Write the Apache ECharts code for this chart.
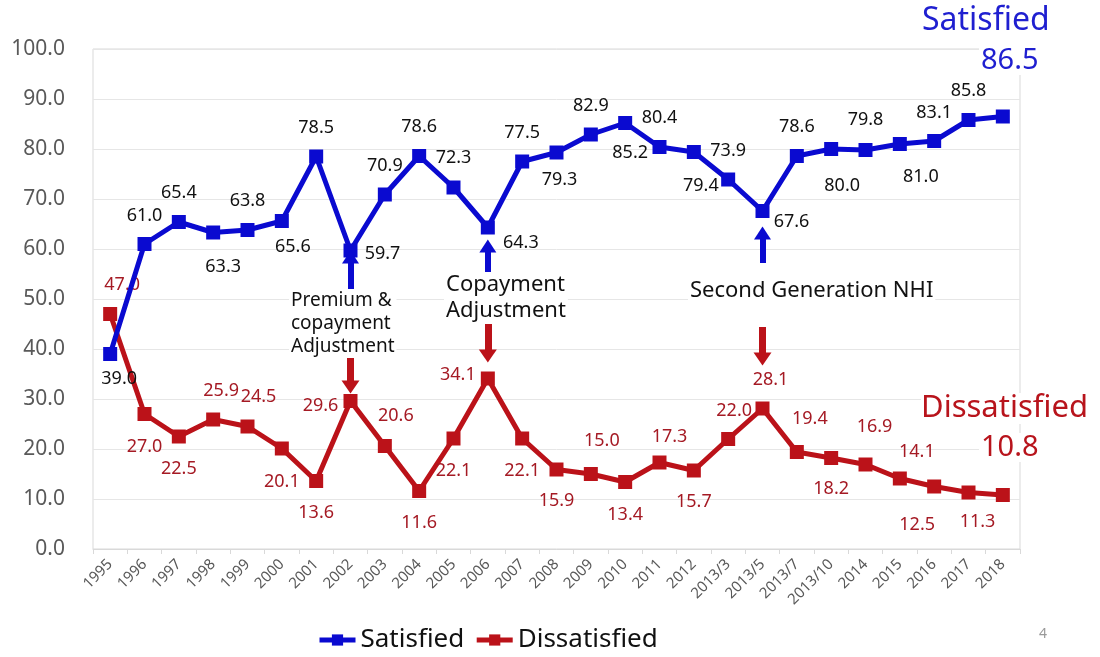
<!DOCTYPE html>
<html>
<head>
<meta charset="utf-8">
<script src="https://cdn.jsdelivr.net/npm/echarts@6/dist/echarts.min.js"></script>
<style>html,body{margin:0;padding:0;background:#fff}#c{width:1100px;height:657px}</style>
</head>
<body>
<div id="c"></div>
<script>
const categories = ['1995','1996','1997','1998','1999','2000','2001','2002','2003','2004','2005','2006','2007','2008','2009','2010','2011','2012','2013/3','2013/5','2013/7','2013/10','2014','2015','2016','2017','2018'];
const satisfied = [39.0,61.0,65.4,63.3,63.8,65.6,78.5,59.7,70.9,78.6,72.3,64.3,77.5,79.3,82.9,85.2,80.4,79.4,73.9,67.6,78.6,80.0,79.8,81.0,81.6,85.8,86.5];
const satisfiedLabels = ['39.0','61.0','65.4','63.3','63.8','65.6','78.5','59.7','70.9','78.6','72.3','64.3','77.5','79.3','82.9','85.2','80.4','79.4','73.9','67.6','78.6','80.0','79.8','81.0','83.1','85.8',''];
const dissatisfied = [47.0,27.0,22.5,25.9,24.5,20.1,13.6,29.6,20.6,11.6,22.1,34.1,22.1,15.9,15.0,13.4,17.3,15.7,22.0,28.1,19.4,18.2,16.9,14.1,12.5,11.3,10.8];
const dissatisfiedLabels = ['47.0','27.0','22.5','25.9','24.5','20.1','13.6','29.6','20.6','11.6','22.1','34.1','22.1','15.9','15.0','13.4','17.3','15.7','22.0','28.1','19.4','18.2','16.9','14.1','12.5','11.3',''];
const yTicks = [0,10,20,30,40,50,60,70,80,90,100];
// events marked with arrows: [category, blue tail, blue tip, red tail, red tip]
const events = [['2002',51.8,58.4,39.2,32.4],['2006',54.8,60.6,45.2,38.6],['2013/5',57.2,63.2,44.4,38.0]];

// label placement (pixel offsets from marker centre) - layout only
const satShift = [[9,25],[0,-28],[0,-29],[10,34],[0,-29],[11,26],[0,-29],[32,3],[0,-29],[0,-29],[0,-30],[33,15],[0,-29],[3,27],[0,-29],[5,30],[0,-29],[7,34],[0,-29],[29,11],[0,-29],[11,37],[0,-30],[21,33],[0,-28],[0,-29],[0,0]];
const disShift = [[12,-29],[0,33],[0,32],[8,-29],[11,-30],[0,33],[0,32],[-30,5],[11,-30],[0,32],[0,32],[-30,-4],[0,32],[0,31],[11,-33],[0,33],[10,-26],[0,31],[6,-28],[8,-29],[13,-33],[0,31],[9,-38],[17,-27],[-17,38],[9,29],[0,0]];

const BLUE = '#0a0ad0', RED = '#bb1219', FONT = 'Noto Sans';

function items(vals, shifts, labels){
  return vals.map((v,i)=>({value:v, label:{show: labels[i] !== '', offset: shifts[i]}}));
}
function arrows(tailIdx, tipIdx){
  return events.map(e=>[{coord:[e[0], e[tailIdx]]},{coord:[e[0], e[tipIdx]]}]);
}

const chart = echarts.init(document.getElementById('c'));
chart.setOption({
  animation:false,
  textStyle:{fontFamily:FONT},
  grid:{left:93,right:80,top:49,bottom:108,show:true,borderColor:'#d9d9d9',borderWidth:1,outerBoundsMode:'none'},
  legend:{data:['Satisfied','Dissatisfied'],left:312,top:622,itemWidth:36,itemHeight:14,itemGap:10,
    lineStyle:{width:5},
    textStyle:{fontSize:26,color:'#111',fontFamily:FONT}},
  xAxis:{type:'category',data:categories,boundaryGap:true,
    axisLine:{lineStyle:{color:'#d9d9d9'}},
    axisTick:{show:true,length:5,lineStyle:{color:'#d9d9d9'}},
    axisLabel:{rotate:45,interval:0,fontSize:15,color:'#595959',margin:13}},
  yAxis:{type:'value',min:0,max:100,interval:10,
    axisLine:{show:false},axisTick:{show:false},
    splitLine:{lineStyle:{color:'#e6e6e6'}},
    axisLabel:{fontSize:21,color:'#595959',margin:28,
      formatter:v=> yTicks.includes(v) ? v.toFixed(1) : ''}},
  series:[
    {name:'Satisfied',type:'line',z:3,data:items(satisfied,satShift,satisfiedLabels),
     symbol:'rect',symbolSize:14,lineStyle:{width:5,color:BLUE},itemStyle:{color:BLUE},
     label:{position:'inside',fontSize:18,color:'#111',textBorderWidth:0,align:'center',verticalAlign:'middle',
       formatter:p=>satisfiedLabels[p.dataIndex]},
     markLine:{silent:true,symbol:['none','triangle'],symbolSize:[17,13],label:{show:false},
       lineStyle:{type:'solid',width:6,color:BLUE},emphasis:{disabled:true},data:arrows(1,2)}},
    {name:'Dissatisfied',type:'line',z:2,data:items(dissatisfied,disShift,dissatisfiedLabels),
     symbol:'rect',symbolSize:14,lineStyle:{width:5,color:RED},itemStyle:{color:RED},
     label:{position:'inside',fontSize:18,color:'#a51a24',textBorderWidth:0,align:'center',verticalAlign:'middle',
       formatter:p=>dissatisfiedLabels[p.dataIndex]},
     markLine:{silent:true,symbol:['none','triangle'],symbolSize:[18,13],label:{show:false},
       lineStyle:{type:'solid',width:7,color:RED},emphasis:{disabled:true},data:arrows(3,4)}}
  ],
  graphic:[
    {type:'text',left:289,top:289,z:50,style:{text:'Premium &\ncopayment\nAdjustment',font:'19px "Noto Sans"',fill:'#111',lineHeight:23,backgroundColor:'#fff',padding:[0,2]}},
    {type:'text',left:444,top:272,z:50,style:{text:'Copayment\nAdjustment',font:'22px "Noto Sans"',fill:'#111',lineHeight:26,backgroundColor:'#fff',padding:[0,2]}},
    {type:'text',left:688,top:280,z:50,style:{text:'Second Generation NHI',font:'22px "Noto Sans"',fill:'#111',backgroundColor:'#fff',padding:[0,2]}},
    {type:'text',left:922,top:5,z:50,style:{text:'Satisfied',font:'32px "Noto Sans"',fill:'#1f1fd0',backgroundColor:'#fff'}},
    {type:'text',left:979,top:46,z:50,style:{text:'86.5',font:'29px "Noto Sans"',fill:'#1f1fd0',backgroundColor:'#fff',padding:[0,2]}},
    {type:'text',left:921,top:393,z:50,style:{text:'Dissatisfied',font:'31px "Noto Sans"',fill:'#b8141c',backgroundColor:'#fff'}},
    {type:'text',left:979,top:433,z:50,style:{text:'10.8',font:'29px "Noto Sans"',fill:'#b8141c',backgroundColor:'#fff',padding:[0,2]}},
    {type:'text',left:1039,top:627,style:{text:'4',font:'14px "Noto Sans"',fill:'#999'}}
  ]
});
</script>
</body>
</html>
